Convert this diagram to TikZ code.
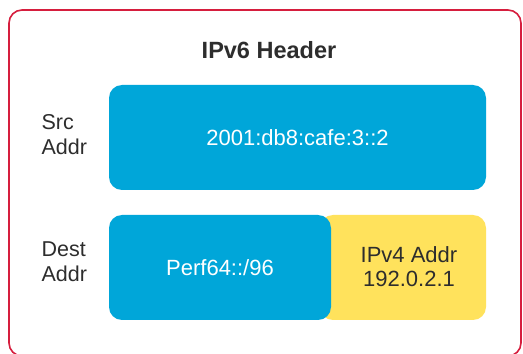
\documentclass[tikz,border=0pt]{standalone}
\usepackage{fontspec}
\setmainfont{Liberation Sans}
\definecolor{framered}{RGB}{214,30,62}
\definecolor{boxblue}{RGB}{0,166,217}
\definecolor{boxyellow}{RGB}{255,226,92}
\definecolor{txtgray}{RGB}{45,45,45}
\begin{document}
\begin{tikzpicture}[x=1pt,y=1pt,
  field/.style={rounded corners=13pt, inner sep=0pt},
  lbl/.style={font=\fontsize{21.5}{25}\selectfont, text=txtgray, align=left},
  fieldtxt/.style={font=\fontsize{22}{24}\selectfont, align=center}]
\useasboundingbox (0,0) rectangle (523,354);
\draw[framered, line width=1.6pt, fill=white, rounded corners=13pt] (9,-2) rectangle (521,344);
\node[font=\bfseries\fontsize{23.5}{26}\selectfont, text=txtgray] (title) at (269,304) {IPv6 Header};
\path[field, fill=boxblue] (109,164) rectangle (486,269);
\node[fieldtxt, text=white] (src) at (297.5,216) {2001:db8:cafe:3::2};
\path[field, fill=boxyellow] (320,34) rectangle (486,139);
\path[field, fill=boxblue] (109,34) rectangle (331,139);
\node[fieldtxt, text=white] (pref) at (220,86) {Perf64::/96};
\node[fieldtxt, text=txtgray] (v4) at (409,87) {IPv4 Addr\\192.0.2.1};
\node[lbl, anchor=west] (srcl) at (38,219) {Src\\Addr};
\node[lbl, anchor=west] (destl) at (38,92) {Dest\\Addr};
\end{tikzpicture}
\end{document}
